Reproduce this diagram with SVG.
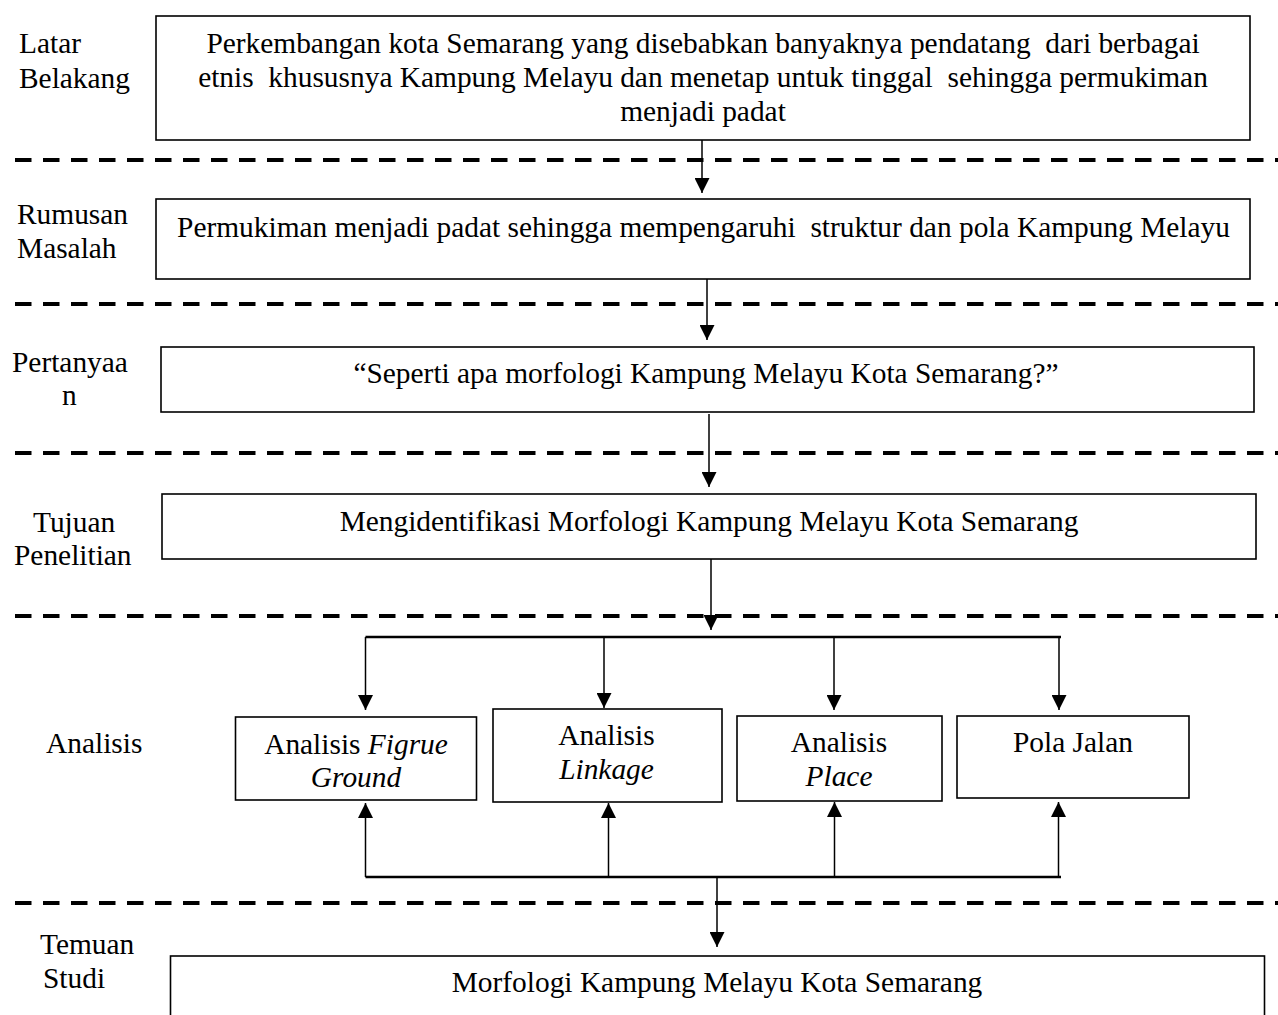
<svg xmlns="http://www.w3.org/2000/svg" width="1278" height="1015" viewBox="0 0 1278 1015">
<style>
  text { font-family: "Liberation Serif", "Times New Roman", serif; font-size: 29.4px; fill: #000; white-space: pre; }
  .c { text-anchor: middle; }
  .i { font-style: italic; }
  .box { fill: #fff; stroke: #000; stroke-width: 1.6; }
  .sep { stroke: #000; stroke-width: 4; stroke-dasharray: 16.5 11.5; fill: none; }
  .ln { stroke: #000; stroke-width: 1.5; fill: none; }
  .bus { stroke: #000; stroke-width: 2.4; fill: none; }
</style>
<defs>
  <marker id="ah" markerUnits="userSpaceOnUse" markerWidth="15" markerHeight="15" refX="15" refY="7.5" orient="auto">
    <path d="M0,0 L15,7.5 L0,15 Z" fill="#000"/>
  </marker>
</defs>
<rect width="1278" height="1015" fill="#fff"/>

<g id="separators">
  <line class="sep" x1="15" y1="160" x2="1278" y2="160"/>
  <line class="sep" x1="15" y1="304" x2="1278" y2="304"/>
  <line class="sep" x1="15" y1="453" x2="1278" y2="453"/>
  <line class="sep" x1="15" y1="616" x2="1278" y2="616"/>
  <line class="sep" x1="15" y1="903" x2="1278" y2="903"/>
</g>

<g id="labels">
  <text x="19" y="53">Latar</text>
  <text x="19" y="88">Belakang</text>
  <text x="17" y="224">Rumusan</text>
  <text x="17" y="258">Masalah</text>
  <text x="12" y="372">Pertanyaa</text>
  <text x="62" y="405">n</text>
  <text x="33" y="532">Tujuan</text>
  <text x="14" y="565">Penelitian</text>
  <text x="46" y="753">Analisis</text>
  <text x="40" y="954">Temuan</text>
  <text x="43" y="988">Studi</text>
</g>

<g id="connectors">
  <line class="ln" x1="702" y1="140" x2="702" y2="193" marker-end="url(#ah)"/>
  <line class="ln" x1="707" y1="279" x2="707" y2="340" marker-end="url(#ah)"/>
  <line class="ln" x1="709" y1="414" x2="709" y2="487" marker-end="url(#ah)"/>
  <line class="ln" x1="711" y1="559" x2="711" y2="630" marker-end="url(#ah)"/>
  <line class="bus" x1="365.5" y1="637" x2="1061" y2="637"/>
  <line class="ln" x1="365.5" y1="637" x2="365.5" y2="710" marker-end="url(#ah)"/>
  <line class="ln" x1="604" y1="637" x2="604" y2="708" marker-end="url(#ah)"/>
  <line class="ln" x1="834" y1="637" x2="834" y2="710" marker-end="url(#ah)"/>
  <line class="ln" x1="1059" y1="637" x2="1059" y2="710" marker-end="url(#ah)"/>
  <line class="bus" x1="365.5" y1="877" x2="1061" y2="877"/>
  <line class="ln" x1="365.5" y1="877" x2="365.5" y2="803" marker-end="url(#ah)"/>
  <line class="ln" x1="608.5" y1="877" x2="608.5" y2="803" marker-end="url(#ah)"/>
  <line class="ln" x1="834.5" y1="877" x2="834.5" y2="802" marker-end="url(#ah)"/>
  <line class="ln" x1="1058.5" y1="877" x2="1058.5" y2="802" marker-end="url(#ah)"/>
  <line class="ln" x1="717" y1="877" x2="717" y2="947" marker-end="url(#ah)"/>
</g>

<g id="latar-belakang">
  <rect class="box" x="156" y="16" width="1094" height="124"/>
  <text class="c" x="703" y="53">Perkembangan kota Semarang yang disebabkan banyaknya pendatang  dari berbagai</text>
  <text class="c" x="703" y="87">etnis  khususnya Kampung Melayu dan menetap untuk tinggal  sehingga permukiman</text>
  <text class="c" x="703" y="121">menjadi padat</text>
</g>

<g id="rumusan-masalah">
  <rect class="box" x="156" y="199" width="1094" height="80"/>
  <text class="c" x="703.5" y="237">Permukiman menjadi padat sehingga mempengaruhi  struktur dan pola Kampung Melayu</text>
</g>

<g id="pertanyaan">
  <rect class="box" x="161" y="347" width="1093" height="65"/>
  <text class="c" x="706" y="383">“Seperti apa morfologi Kampung Melayu Kota Semarang?”</text>
</g>

<g id="tujuan">
  <rect class="box" x="162" y="494" width="1094" height="65"/>
  <text class="c" x="709" y="531">Mengidentifikasi Morfologi Kampung Melayu Kota Semarang</text>
</g>

<g id="figure-ground">
  <rect class="box" x="235.5" y="717" width="241" height="83"/>
  <text class="c" x="356" y="754">Analisis <tspan class="i">Figrue</tspan></text>
  <text class="c i" x="356" y="787">Ground</text>
</g>

<g id="linkage">
  <rect class="box" x="493" y="709" width="229" height="93"/>
  <text class="c" x="606.5" y="745">Analisis</text>
  <text class="c i" x="606.5" y="779">Linkage</text>
</g>

<g id="place">
  <rect class="box" x="737" y="716" width="205" height="85"/>
  <text class="c" x="839" y="752">Analisis</text>
  <text class="c i" x="839" y="786">Place</text>
</g>

<g id="pola-jalan">
  <rect class="box" x="957" y="716" width="232" height="82"/>
  <text class="c" x="1073" y="752">Pola Jalan</text>
</g>

<g id="temuan">
  <rect class="box" x="170.5" y="956" width="1094" height="80"/>
  <text class="c" x="717" y="992">Morfologi Kampung Melayu Kota Semarang</text>
</g>
</svg>
